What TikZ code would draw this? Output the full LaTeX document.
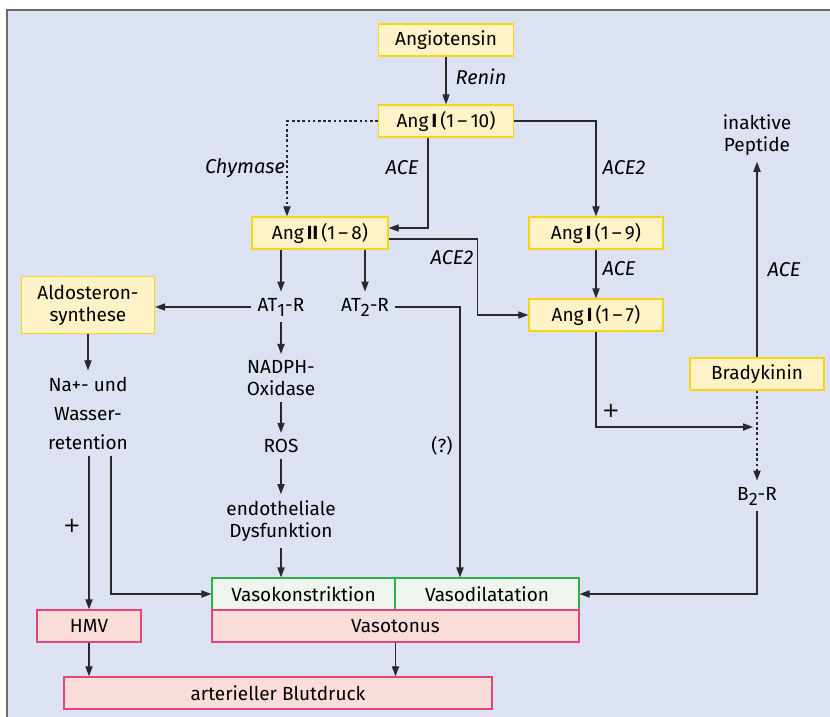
\documentclass[tikz,border=0pt]{standalone}
\usepackage{fontspec}
\setmainfont{Fira Sans}
\newfontfamily\signfont{DejaVu Sans}
\usetikzlibrary{arrows.meta}

\definecolor{bgblue}{RGB}{220,226,242}
\definecolor{framegray}{RGB}{105,105,110}
\definecolor{yfill}{RGB}{255,242,198}
\definecolor{yline}{RGB}{245,214,20}
\definecolor{gfill}{RGB}{237,245,237}
\definecolor{gline}{RGB}{46,176,78}
\definecolor{pfill}{RGB}{250,220,216}
\definecolor{pline}{RGB}{222,70,125}
\definecolor{arrgray}{RGB}{40,40,45}

\newcommand{\lowsub}[1]{\raisebox{-0.5ex}{\small #1}}
\newcommand{\angname}[2]{Ang\,\textbf{#1}\,(1\,--\,#2)}

\tikzset{
  ybox/.style={draw=yline, fill=yfill, line width=0.7pt, minimum height=16pt, inner sep=0pt},
  gbox/.style={draw=gline, fill=gfill, line width=0.6pt, minimum height=16pt, inner sep=0pt},
  pbox/.style={draw=pline, fill=pfill, line width=0.7pt, minimum height=16pt, inner sep=0pt},
  lbl/.style={align=center, inner sep=3pt},
  enz/.style={font=\itshape},
  sign/.style={font=\signfont\fontsize{10.5}{12}\selectfont},
  dots/.style={dash pattern=on 1.3pt off 1.3pt},
  arr/.style={draw=arrgray, line width=0.6pt, -{Triangle[length=5pt,width=3.6pt]}},
}

\begin{document}
\begin{tikzpicture}[x=0.5pt, y=-0.5pt, font=\fontsize{9.5}{11}\selectfont]
			%%%%% START %%%%%

			\useasboundingbox (0,0) rectangle (830,717);
			\fill[bgblue] (7,10) rectangle (830,717);
			\draw[framegray, line width=1pt] (7,717) -- (7,10) -- (830,10);

			% yellow boxes
			\node[ybox, minimum width=67.5pt] (angio) at (446,40) {Angiotensin};
			\node[ybox, minimum width=67.5pt] (angI) at (446,121) {\angname{I}{10}};
			\node[ybox, minimum width=68pt] (angII) at (320,233) {\angname{II}{8}};
			\node[ybox, minimum width=67pt] (a19) at (596,233) {\angname{I}{9}};
			\node[ybox, minimum width=67pt] (a17) at (596,315) {\angname{I}{7}};
			\node[ybox, minimum width=66.5pt, minimum height=28.5pt, align=center] (aldo) at (88,305) {Aldosteron-\\synthese};
			\node[ybox, minimum width=67pt] (brady) at (757,374) {Bradykinin};

			% plain text nodes
			\node[lbl] (at1) at (281,307) {AT\lowsub{1}-R};
			\node[lbl] (at2) at (365,307) {AT\lowsub{2}-R};
			\node[lbl] (nadph) at (281,378) {NADPH-\\Oxidase};
			\node[lbl] (ros) at (281,446) {ROS};
			\node[lbl] (dys) at (281,521) {endotheliale\\Dysfunktion};
			\node[lbl, font=\fontsize{9.5}{14.5}\selectfont] (na) at (88,413) {Na+- und\\Wasser-\\retention};
			\node[lbl] (inakt) at (757,135) {inaktive\\Peptide};
			\node[lbl] (b2) at (757,496) {B\lowsub{2}-R};

			% green and red boxes
			\node[gbox, minimum width=91.5pt] (vk) at (303.5,594) {Vasokonstriktion};
			\node[gbox, minimum width=92pt] (vd) at (487,594) {Vasodilatation};
			\node[pbox, minimum width=183.5pt] (vt) at (395.5,626) {Vasotonus};
			\node[pbox, minimum width=52pt] (hmv) at (89,626) {HMV};
			\node[pbox, minimum width=214pt] (abd) at (278,693) {arterieller Blutdruck};

			% enzymes and signs
			\node[enz] (renin) at (481,77) {Renin};
			\node[enz] (chym) at (245,168) {Chymase};
			\node[enz] (ace1) at (402,168) {ACE};
			\node[enz] (ace2a) at (624,168) {ACE2};
			\node[enz] (ace2b) at (452,258) {ACE2};
			\node[enz] (ace3) at (619,269) {ACE};
			\node[enz] (ace4) at (784,270) {ACE};
			\node[sign] (plus1) at (611,411) {+};
			\node[sign] (plus2) at (72,526) {+};
			\node (quest) at (442,446) {(?)};

			\coordinate (bkjoin) at (753,427);

			% connectors
			\draw[arr] (angio) -- (angI);
			\draw[arr, dots] (angI.west) -| ([xshift=-16.5pt]angII.north);
			\draw[arr] ([xshift=-9pt]angI.south) |- ([yshift=2.5pt]angII.east);
			\draw[arr] (angI.east) -| (a19.north);
			\draw[arr] (a19) -- (a17);
			\draw[arr] ([yshift=-3pt]angII.east) -- ++(89,0) |- (a17.west);

			\draw[arr] (angII.south -| at1) -- (at1);
			\draw[arr] (angII.south -| at2) -- (at2);
			\draw[arr] (at1.west) -- (at1.west -| aldo.east);
			\draw[arr] (at2.east) -| ([xshift=-13.5pt]vd.north);
			\draw[arr] (at1) -- (nadph);
			\draw[arr] (nadph) -- (ros);
			\draw[arr] (ros) -- (dys);
			\draw[arr] (dys) -- (dys |- vk.north);

			\draw[arr] (aldo) -- (na);
			\draw[arr] (na.south -| hmv) -- (hmv);
			\draw[arr] ([xshift=11.5pt]na.south) |- (vk.west);

			\draw[arr] (brady) -- (inakt);
			\draw[arr, dots] (brady) -- (b2);
			\draw[arr] (a17) |- (bkjoin);
			\draw[arr] (b2) |- (vd.east);

			\draw[arr] (hmv) -- (hmv |- abd.north);
			\draw[arr] (vt) -- (vt |- abd.north);

			%%%%% END %%%%%
\end{tikzpicture}
\end{document}
